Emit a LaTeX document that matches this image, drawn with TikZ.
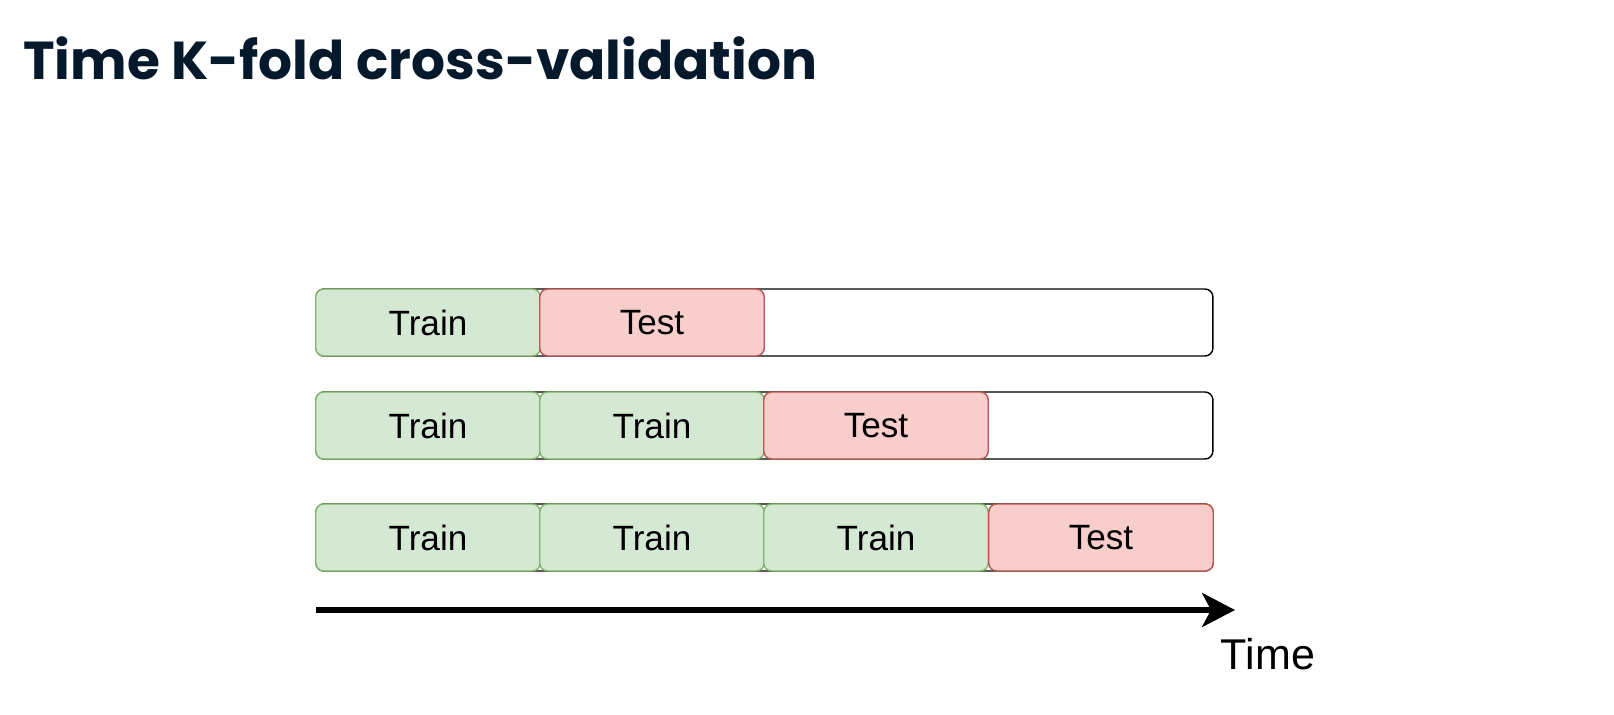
\documentclass[tikz,border=0pt]{standalone}
\usepackage{fontspec}
\setmainfont{Liberation Sans}
\newfontfamily\titlefont{Poppins}
\usetikzlibrary{arrows.meta}
\definecolor{trainfill}{HTML}{D5E8D4}
\definecolor{traindraw}{HTML}{82B366}
\definecolor{testfill}{HTML}{F8CECC}
\definecolor{testdraw}{HTML}{B85450}
\definecolor{titleblue}{HTML}{05192D}

\begin{document}
\begin{tikzpicture}[x=0.02cm,y=-0.02cm,
    bar/.style={draw=black, line width=0.8pt, rounded corners=4.5pt,
        minimum width=17.94cm, minimum height=1.34cm, inner sep=0pt},
    seg/.style={line width=0.8pt, rounded corners=4.5pt, inner sep=0pt,
        minimum width=4.49cm, minimum height=1.34cm,
        font=\fontsize{20}{24}\selectfont},
    train/.style={seg, draw=traindraw, fill=trainfill},
    test/.style={seg, draw=testdraw, fill=testfill}]
        \useasboundingbox (0,0) rectangle (1614,714);

        \node [anchor=base west, inner sep=0pt, text=titleblue,
            font=\titlefont\bfseries\fontsize{30.4}{36}\selectfont] (title) at (23,79) {Time K-fold cross-validation};

        % first split
        \node [bar] (bar1) at (764.5,322.5) {};
        \node [train] (a1) at (428,322.5) {Train};
        \node [test] (a2) at (652,322.5) {Test};

        % second split
        \node [bar] (bar2) at (764.5,425.5) {};
        \node [train] (b1) at (428,425.5) {Train};
        \node [train] (b2) at (652,425.5) {Train};
        \node [test] (b3) at (876,425.5) {Test};

        % third split
        \node [bar] (bar3) at (764.5,537.5) {};
        \node [train] (c1) at (428,537.5) {Train};
        \node [train] (c2) at (652,537.5) {Train};
        \node [train] (c3) at (876,537.5) {Train};
        \node [test] (c4) at (1101,537.5) {Test};

        \coordinate (tstart) at (316,610);
        \coordinate (tend) at (1235,610);
        \draw [-{Stealth[length=18.7pt, width=19.3pt, inset=5pt]}, line width=3pt] (tstart) -- (tend);
        \node [anchor=base, font=\fontsize{24.5}{29}\selectfont, inner sep=0pt] (time) at (1268,669) {Time};

    \end{tikzpicture}
\end{document}
